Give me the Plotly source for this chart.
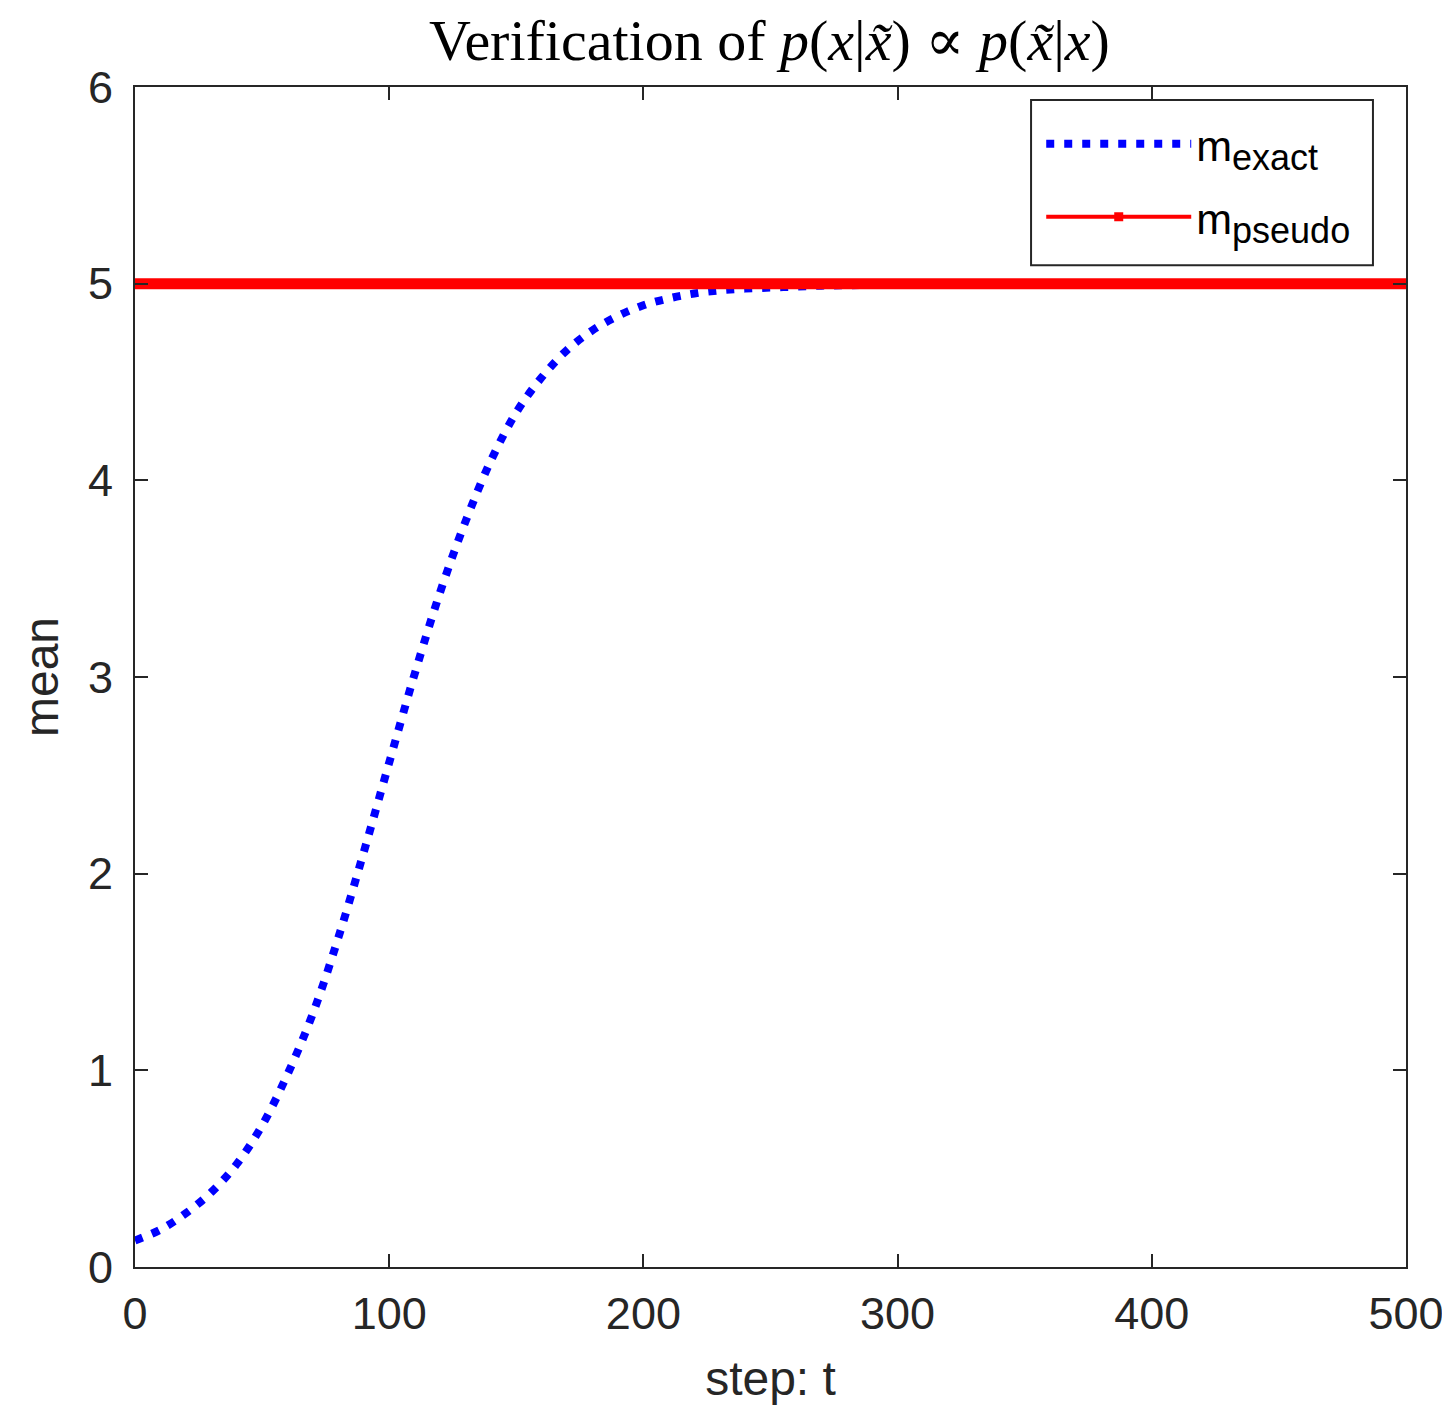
import plotly.graph_objects as go

# ---- data ----
t_exact = [0, 10, 20, 30, 40, 50, 60, 70, 80, 90, 100, 110, 120, 130, 140, 150,
           160, 170, 180, 190, 200, 210, 220, 230, 240, 250, 260, 270, 280, 300,
           350, 400, 450, 500]
m_exact = [0.135, 0.19, 0.273, 0.38, 0.523, 0.72, 0.98, 1.29, 1.675, 2.11, 2.565,
           3.015, 3.43, 3.79, 4.10, 4.345, 4.524, 4.663, 4.763, 4.836, 4.89, 4.925,
           4.95, 4.966, 4.975, 4.98, 4.985, 4.99, 4.992, 4.995, 4.998, 5.0, 5.0, 5.0]

t_pseudo = [0, 50, 100, 150, 200, 250, 300, 350, 400, 450, 500]
m_pseudo = [5.0, 5.0, 5.0, 5.0, 5.0, 5.0, 5.0, 5.0, 5.0, 5.0, 5.0]

x_ticks = [0, 100, 200, 300, 400, 500]
y_ticks = [0, 1, 2, 3, 4, 5, 6]

AX = "#262626"
SANS = "Liberation Sans, Arial, Helvetica, sans-serif"
SERIF = "Liberation Serif, DejaVu Serif, serif"

fig = go.Figure()

fig.add_trace(go.Scatter(
    x=t_exact, y=m_exact, mode="lines", line_shape="spline",
    line=dict(color="#0000ff", width=8, dash="8px,10px"),
    name="m<sub><span style='font-size:36px'>exact</span></sub>",
    legendgroup="g1",
))

fig.add_trace(go.Scatter(
    x=t_pseudo, y=m_pseudo, mode="lines",
    line=dict(color="#ff0000", width=11),
    showlegend=False, name="pseudo_band", legendgroup="g2",
))

fig.add_trace(go.Scatter(
    x=[None], y=[None], mode="lines+markers",
    line=dict(color="#ff0000", width=4),
    marker=dict(color="#ff0000", symbol="square", size=9),
    name="m<sub><span style='font-size:36px'>pseudo</span></sub>",
    legendgroup="g2",
))

axis_common = dict(
    showline=True, linecolor=AX, linewidth=2, mirror="ticks",
    ticks="inside", ticklen=13, tickwidth=1.5, tickcolor=AX,
    showgrid=False, zeroline=False, automargin=False,
    tickfont=dict(family=SANS, size=45, color=AX),
)

fig.update_xaxes(
    range=[0, 500], tickvals=x_ticks, ticktext=[str(v) for v in x_ticks],
    title=dict(text="step: t", font=dict(family=SANS, size=48, color=AX), standoff=23),
    ticklabelstandoff=6,
    **axis_common,
)
fig.update_yaxes(
    range=[0, 6], tickvals=y_ticks, ticktext=[str(v) for v in y_ticks],
    title=dict(text="mean", font=dict(family=SANS, size=48, color=AX), standoff=14),
    ticklabelstandoff=11,
    **axis_common,
)

# legend frame (drawn as a box so its padding matches the reference)
fig.add_shape(
    type="rect", xref="paper", yref="paper",
    x0=0.705, x1=0.974, y0=0.849, y1=0.989,
    line=dict(color=AX, width=2), fillcolor="white", layer="above",
)

fig.update_layout(
    width=1442, height=1398,
    margin=dict(l=127, r=44, t=79, b=139),
    paper_bgcolor="white", plot_bgcolor="white",
    title=dict(
        text="Verification of <i>p</i>(<i>x</i>|<i>x\u0303</i>) \u221d <i>p</i>(<i>x\u0303</i>|<i>x</i>)",
        font=dict(family=SERIF, size=58, color="#000000"),
        x=0.528, xanchor="center", y=0.977, yanchor="middle", automargin=False,
    ),
    legend=dict(
        x=0.713, xanchor="left", y=0.981, yanchor="top",
        bgcolor="rgba(0,0,0,0)", borderwidth=0,
        font=dict(family=SANS, size=43, color="#000000"),
        itemwidth=145, tracegroupgap=14,
    ),
    showlegend=True,
)

fig.write_html("out.html")
